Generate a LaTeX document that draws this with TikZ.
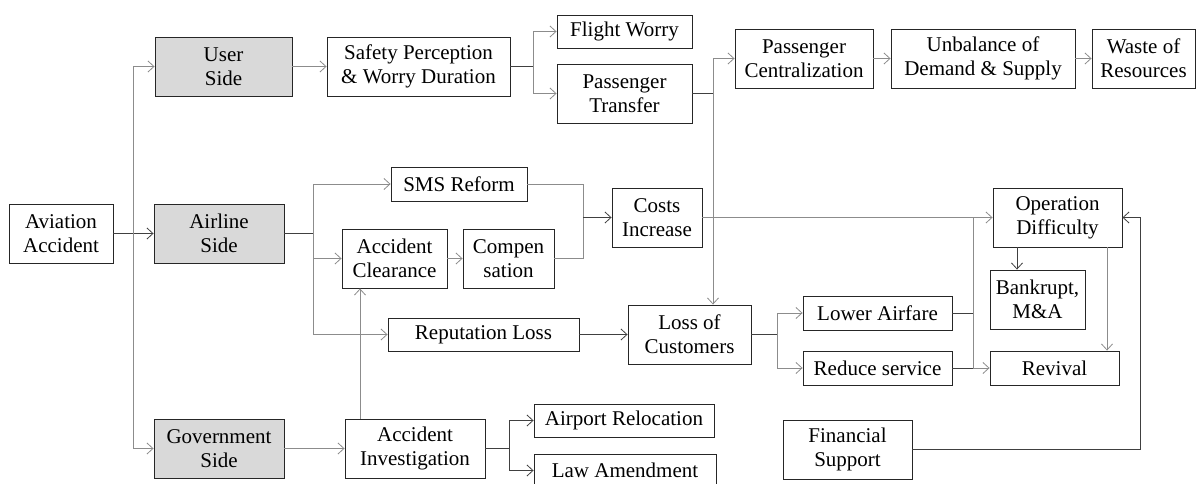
\documentclass[tikz,border=0pt]{standalone}
\usepackage{fontspec}
\setmainfont{Liberation Serif}
\newfontfamily\boxfont{Liberation Serif}
\usetikzlibrary{arrows.meta}
\tikzset{
  box/.style={draw=black!85, line width=0.9pt, align=center, inner sep=0pt,
    font=\boxfont\fontsize{21}{24}\selectfont},
  sidebox/.style={box, fill=black!15},
  dk/.style={draw=black!75, line width=0.8pt},
  lt/.style={draw=black!45, line width=0.8pt},
  >={Straight Barb[length=6pt,width=11pt]}
}
\begin{document}
\begin{tikzpicture}[x=1pt,y=-1pt]
\useasboundingbox (0,0) rectangle (1196,484);
%\draw[help lines] (0,0) grid[step=50] (1196,484);
\node[box, minimum width=104pt, minimum height=59pt] (acc) at (61,233.5) {Aviation\\Accident};
\node[sidebox, minimum width=137pt, minimum height=59pt] (user) at (223.5,66.5) {User\\Side};
\node[sidebox, minimum width=130pt, minimum height=59pt] (airline) at (219,233.5) {Airline\\Side};
\node[sidebox, minimum width=130pt, minimum height=59pt] (gov) at (219,448.5) {Government\\Side};
\node[box, minimum width=183pt, minimum height=59pt] (safety) at (418.5,66.5) {Safety Perception\\\& Worry Duration};
\node[box, minimum width=135pt, minimum height=33pt] (flight) at (624.5,31.5) {Flight Worry};
\node[box, minimum width=135pt, minimum height=59pt] (transfer) at (624.5,93.5) {Passenger\\Transfer};
\node[box, minimum width=138pt, minimum height=59pt] (central) at (804,58.5) {Passenger\\Centralization};
\node[box, minimum width=184pt, minimum height=59pt] (unbal) at (983,58.5) {Unbalance of\\Demand \& Supply};
\node[box, minimum width=103pt, minimum height=59pt] (waste) at (1143.5,58.5) {Waste of\\Resources};
\node[box, minimum width=136pt, minimum height=34pt] (sms) at (459,184) {SMS Reform};
\node[box, minimum width=105pt, minimum height=59pt] (clear) at (394.5,258.5) {Accident\\Clearance};
\node[box, minimum width=91pt, minimum height=59pt] (comp) at (508.5,258.5) {Compen\\sation};
\node[box, minimum width=90pt, minimum height=59pt] (costs) at (657,217.5) {Costs\\Increase};
\node[box, minimum width=191pt, minimum height=33pt] (repu) at (483.5,334.5) {Reputation Loss};
\node[box, minimum width=123pt, minimum height=59pt] (loss) at (689.5,334.5) {Loss of\\Customers};
\node[box, minimum width=149pt, minimum height=34pt] (lower) at (877.5,313) {Lower Airfare};
\node[box, minimum width=149pt, minimum height=34pt] (reduce) at (877.5,368) {Reduce service};
\node[box, minimum width=129pt, minimum height=59pt] (opdiff) at (1057.5,217.5) {Operation\\Difficulty};
\node[box, minimum width=95pt, minimum height=59pt] (bank) at (1037.5,299.5) {Bankrupt,\\M\&A};
\node[box, minimum width=129pt, minimum height=34pt] (revival) at (1054.5,368) {Revival};
\node[box, minimum width=140pt, minimum height=59pt] (invest) at (415,448.5) {Accident\\Investigation};
\node[box, minimum width=180pt, minimum height=33pt] (airport) at (624,420.5) {Airport Relocation};
\node[box, minimum width=182pt, minimum height=33pt] (law) at (625,470.5) {Law Amendment};
\node[box, minimum width=129pt, minimum height=59pt] (finsup) at (847.5,449.5) {Financial\\Support};
% three sides
\draw[dk,->] (acc) -- (airline);
\coordinate (tk) at (133,233.5);
\draw[lt,->] (tk) |- (user);
\draw[lt,->] (tk) |- (gov);
% user side
\draw[lt,->] (user) -- (safety);
\coordinate (s1) at (533,66.5);
\draw[dk] (safety) -- (s1);
\draw[lt,->] (s1) |- (flight);
\draw[lt,->] (s1) |- (transfer);
\coordinate (t1) at (713,93.5);
\draw[dk] (transfer) -- (t1);
\draw[lt,->] (t1) |- (central);
\draw[lt,->] (t1) -- (t1 |- loss.north);
\draw[lt,->] (central) -- (unbal);
\draw[lt,->] (unbal) -- (waste);
% airline side
\coordinate (a1) at (313,233.5);
\draw[dk] (airline) -- (a1);
\draw[lt,->] (a1) |- (sms);
\draw[lt,->] (a1) |- (clear);
\draw[lt,->] (a1) |- (repu);
\draw[lt,->] (clear) -- (comp);
\coordinate (c1) at (583,217.5);
\draw[lt] (sms) -| (c1);
\draw[lt] (comp) -| (c1);
\draw[dk,->] (c1) -- (costs);
\draw[lt,->] (costs) -- (opdiff);
\draw[dk,->] (repu) -- (loss);
\coordinate (l1) at (777,334.5);
\draw[dk] (loss) -- (l1);
\draw[lt,->] (l1) |- (lower);
\draw[lt,->] (l1) |- (reduce);
\coordinate (r1) at (973,368);
\draw[dk] (lower) -- (lower -| r1);
\draw[dk] (reduce) -- (r1);
\draw[lt] (r1) -- (r1 |- opdiff);
\draw[lt,->] (r1) -- (revival);
\coordinate (o1) at (1017,0);
\coordinate (o2) at (1107,0);
\draw[dk,->] (o1 |- opdiff.south) -- (o1 |- bank.north);
\draw[lt,->] (o2 |- opdiff.south) -- (o2 |- revival.north);
\coordinate (f1) at (1140,0);
\draw[dk,->] (finsup) -| (f1 |- opdiff) -- (opdiff);
% government side
\draw[lt,->] (gov) -- (invest);
\coordinate (g1) at (360,0);
\draw[lt,->] (g1 |- invest.north) -- (g1 |- clear.south);
\coordinate (i1) at (509,448.5);
\draw[dk] (invest) -- (i1);
\draw[dk,->] (i1) |- (airport);
\draw[dk,->] (i1) |- (law);
\end{tikzpicture}
\end{document}
